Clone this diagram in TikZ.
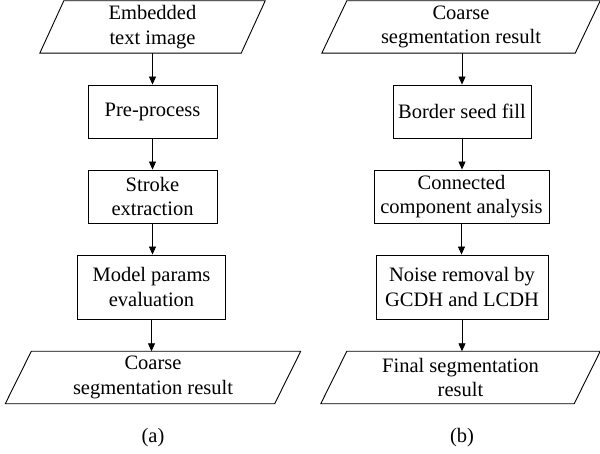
\documentclass[tikz,border=0pt]{standalone}
\usepackage{fontspec}
\setmainfont{Liberation Serif}
\newfontfamily\timesfont{Liberation Serif}
\usetikzlibrary{arrows.meta}
\begin{document}
\begin{tikzpicture}[x=1pt,y=-1pt,
  every node/.style={font=\timesfont\fontsize{20.5}{24.5}\selectfont, align=center, inner sep=2pt},
  procbox/.style={draw, line width=0.9pt, minimum height=53pt},
  iobox/.style={minimum height=52pt},
  arr/.style={line width=0.9pt, -{Triangle[length=8pt,width=7pt]}},
  pline/.style={line width=0.9pt}]
\useasboundingbox (0,0) rectangle (600,454);
% left column
\node[iobox, minimum width=225pt] (a1) at (152.5,27) {Embedded\\text image};
\node[procbox, minimum width=129pt] (a2) at (152.5,111.5) {Pre-process};
\node[procbox, minimum width=129pt] (a3) at (152.5,196.5) {Stroke\\extraction};
\node[procbox, minimum width=148pt, minimum height=64pt] (a4) at (151.5,287) {Model params\\evaluation};
\node[iobox, minimum width=295pt] (a5) at (153,377.5) {Coarse\\segmentation result};
\node (la) at (153,438) {(a)};
% right column
\node[iobox, minimum width=278pt] (b1) at (461,27) {Coarse\\segmentation result};
\node[procbox, minimum width=138pt] (b2) at (462,111.5) {Border seed fill};
\node[procbox, minimum width=175pt] (b3) at (461.5,196.5) {Connected\\component analysis};
\node[procbox, minimum width=172pt, minimum height=64pt] (b4) at (462,287) {Noise removal by\\GCDH and LCDH};
\node[iobox, minimum width=279pt] (b5) at (460.5,377.5) {Final segmentation\\result};
\node (lb) at (462,438) {(b)};
% parallelograms
\draw[pline] (a1.south west) -- ([xshift=24pt]a1.north west) -- (a1.north east) -- ([xshift=-24pt]a1.south east) -- cycle;
\draw[pline] (a5.south west) -- ([xshift=26pt]a5.north west) -- (a5.north east) -- ([xshift=-26pt]a5.south east) -- cycle;
\draw[pline] (b1.south west) -- ([xshift=25pt]b1.north west) -- (b1.north east) -- ([xshift=-25pt]b1.south east) -- cycle;
\draw[pline] (b5.south west) -- ([xshift=26pt]b5.north west) -- (b5.north east) -- ([xshift=-26pt]b5.south east) -- cycle;
% connectors
\draw[arr] (a2.north |- a1.south) -- (a2.north);
\draw[arr] (a2.south) -- (a3.north);
\draw[arr] (a3.south) -- (a3.south |- a4.north);
\draw[arr] (a4.south) -- (a4.south |- a5.north);
\draw[arr] (b2.north |- b1.south) -- (b2.north);
\draw[arr] (b2.south) -- (b2.south |- b3.north);
\draw[arr] (b3.south) -- (b3.south |- b4.north);
\draw[arr] (b4.south) -- (b4.south |- b5.north);
\end{tikzpicture}
\end{document}
